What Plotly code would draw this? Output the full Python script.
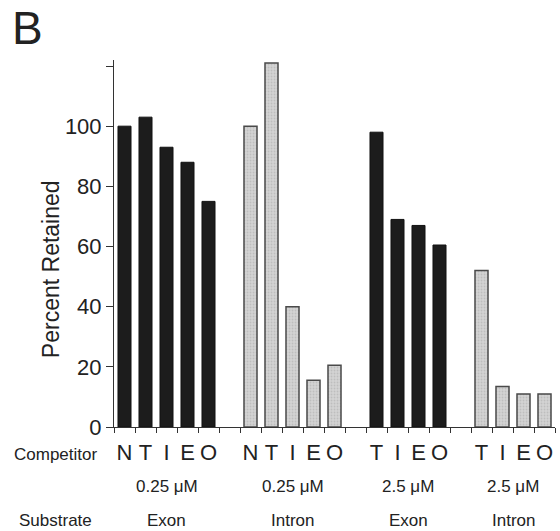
import plotly.graph_objects as go

# ---- data ----
competitors_025 = ["N", "T", "I", "E", "O"]
competitors_25 = ["T", "I", "E", "O"]
exon_025 = [100, 103, 93, 88, 75]
intron_025 = [100, 121, 40, 15.5, 20.5]
exon_25 = [98, 69, 67, 60.5]
intron_25 = [52, 13.5, 11, 11]
group_conc = ["0.25 \u03bcM", "0.25 \u03bcM", "2.5 \u03bcM", "2.5 \u03bcM"]
group_substrate = ["Exon", "Intron", "Exon", "Intron"]

groups = [
    (competitors_025, exon_025, "exon"),
    (competitors_025, intron_025, "intron"),
    (competitors_25, exon_25, "exon"),
    (competitors_25, intron_25, "intron"),
]

# slot positions: one empty slot between groups
pos = 0
exon_x, exon_y, intron_x, intron_y = [], [], [], []
label_pos, label_txt, centers = [], [], []
for gi, (comps, vals, kind) in enumerate(groups):
    if gi > 0:
        pos += 1
    start = pos
    for c, v in zip(comps, vals):
        label_pos.append(pos); label_txt.append(c)
        if kind == "exon":
            exon_x.append(pos); exon_y.append(v)
        else:
            intron_x.append(pos); intron_y.append(v)
        pos += 1
    centers.append((start + pos - 1) / 2)
n_slots = pos

FONT = "Liberation Sans, Arial, Helvetica, sans-serif"
TXT = "#222222"

fig = go.Figure()
fig.add_trace(go.Bar(
    x=exon_x, y=exon_y, width=0.62,
    marker=dict(color="#1c1c1c", line=dict(color="#111111", width=1)),
    showlegend=False, xaxis="x",
))
fig.add_trace(go.Bar(
    x=intron_x, y=intron_y, width=0.62,
    marker=dict(color="#d4d4d4", line=dict(color="#4a4a4a", width=1.5),
                pattern=dict(shape=".", fgcolor="#a8a8a8", size=3, solidity=0.3)),
    showlegend=False, xaxis="x2",
))

annotations = [
    dict(text="B", xref="paper", yref="paper", x=-0.235, y=1.088,
         xanchor="left", yanchor="middle", showarrow=False,
         font=dict(size=46, color=TXT, family=FONT)),
    dict(text="Percent Retained", xref="paper", yref="paper", x=-0.143, y=0.43,
         xanchor="center", yanchor="middle", showarrow=False, textangle=-90,
         font=dict(size=23, color=TXT, family=FONT)),
    dict(text="Competitor", xref="paper", yref="paper", x=-0.2313, y=-0.076,
         xanchor="left", yanchor="middle", showarrow=False,
         font=dict(size=17, color=TXT, family=FONT)),
    dict(text="Substrate", xref="paper", yref="paper", x=-0.22, y=-0.254,
         xanchor="left", yanchor="middle", showarrow=False,
         font=dict(size=17, color=TXT, family=FONT)),
]
for cx, conc, sub in zip(centers, group_conc, group_substrate):
    annotations.append(dict(text=conc, xref="x", yref="paper", x=cx, y=-0.163,
                            xanchor="center", yanchor="middle", showarrow=False,
                            font=dict(size=17, color=TXT, family=FONT)))
    annotations.append(dict(text=sub, xref="x", yref="paper", x=cx, y=-0.254,
                            xanchor="center", yanchor="middle", showarrow=False,
                            font=dict(size=17, color=TXT, family=FONT)))

xrange = [-0.5, n_slots - 0.5]
fig.update_layout(
    width=560, height=531,
    margin=dict(l=114, r=5, t=60, b=104),
    paper_bgcolor="white", plot_bgcolor="white",
    barmode="overlay",
    font=dict(family=FONT, color=TXT),
    annotations=annotations,
    xaxis=dict(
        range=xrange,
        tickmode="linear", tick0=-0.5, dtick=1, showticklabels=False,
        ticks="outside", ticklen=5, tickwidth=1, tickcolor="#333",
        showline=True, linecolor="#333", linewidth=1,
        showgrid=False, zeroline=False, fixedrange=True,
    ),
    xaxis2=dict(
        overlaying="x", matches="x", anchor="y", side="bottom",
        range=xrange,
        tickmode="array", tickvals=label_pos, ticktext=label_txt, tickangle=0,
        ticks="", ticklabelstandoff=10,
        showline=False, showgrid=False, zeroline=False, fixedrange=True,
        tickfont=dict(size=22, color=TXT, family=FONT),
    ),
    yaxis=dict(
        range=[0, 122],
        tickvals=[0, 20, 40, 60, 80, 100, 120],
        ticktext=["0", "20", "40", "60", "80", "100", ""],
        ticks="outside", ticklen=7, tickwidth=1, tickcolor="#333",
        showline=True, linecolor="#333", linewidth=1,
        showgrid=False, zeroline=False,
        tickfont=dict(size=22, color=TXT, family=FONT),
        fixedrange=True,
    ),
)

fig.write_html("out.html")
